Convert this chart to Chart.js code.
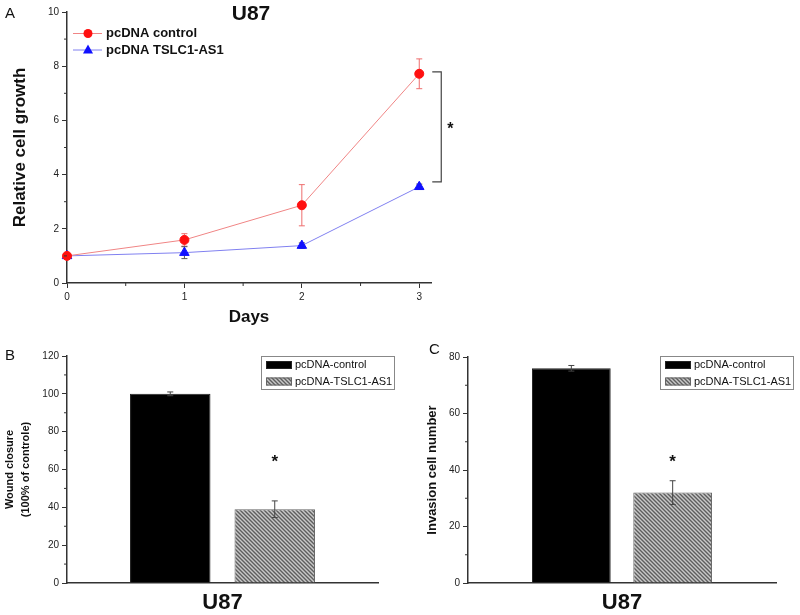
<!DOCTYPE html>
<html>
<head>
<meta charset="utf-8">
<script src="https://cdn.jsdelivr.net/npm/chart.js@4.4.1/dist/chart.umd.min.js"></script>
<style>
  body { margin: 0; background: #fff; }
  #wrap { position: relative; width: 800px; height: 615px; overflow: hidden; font-family: Arial, 'Liberation Sans', sans-serif; }
  #wrap canvas { position: absolute; }
  .tag { position: absolute; font-size: 15px; line-height: 1; color: #111; }
</style>
</head>
<body>
<div id="wrap">
  <canvas id="growth" width="470" height="330" style="left:0;top:0"></canvas>
  <canvas id="wound" width="400" height="285" style="left:0;top:330px"></canvas>
  <canvas id="invasion" width="400" height="285" style="left:400px;top:330px"></canvas>
  <div class="tag" style="left:5px;top:5px">A</div>
  <div class="tag" style="left:5px;top:347px">B</div>
  <div class="tag" style="left:429px;top:341px">C</div>
</div>
<script>
const FONT = "Arial, 'Liberation Sans', sans-serif";

// panel A: relative cell growth
const days = [0, 1, 2, 3];
const controlGrowth = [1.0, 1.59, 2.87, 7.72];
const controlGrowthErr = [0.03, 0.23, 0.76, 0.55];
const tslcGrowth = [1.0, 1.12, 1.38, 3.55];
const tslcGrowthErr = [0.03, 0.22, 0.1, 0.1];

// panels B and C
const groupLabels = ['U87'];
const seriesNames = ['pcDNA-control', 'pcDNA-TSLC1-AS1'];
const woundValues = [100, 39];
const woundErr = [1, 4.4];
const invasionValues = [76, 32];
const invasionErr = [1, 4.2];

const font = (size, weight) => ({ family: FONT, size: size, weight: weight || 'normal' });

function makeHatch() {
  const c = document.createElement('canvas');
  c.width = 4; c.height = 4;
  const g = c.getContext('2d');
  g.fillStyle = '#c8c8c8';
  g.fillRect(0, 0, 4, 4);
  g.strokeStyle = '#5e5e5e';
  g.lineWidth = 1.4;
  g.beginPath();
  g.moveTo(0, 0); g.lineTo(4, 4);
  g.moveTo(-1, 3); g.lineTo(1, 5);
  g.moveTo(3, -1); g.lineTo(5, 1);
  g.stroke();
  return g.createPattern(c, 'repeat');
}
const hatch = makeHatch();

// short ticks between the labelled ones
const minorTicks = {
  id: 'minorTicks',
  afterDraw(chart, args, opts) {
    const ctx = chart.ctx;
    ctx.save();
    ctx.strokeStyle = '#333';
    ctx.lineWidth = 1;
    Object.entries(opts.steps || {}).forEach(([id, step]) => {
      const s = chart.scales[id];
      const major = opts.major[id];
      for (let v = s.min; v <= s.max + 1e-9; v += step) {
        const r = v / major;
        if (Math.abs(r - Math.round(r)) < 1e-6) continue;
        const p = s.getPixelForValue(v);
        ctx.beginPath();
        if (s.isHorizontal()) { ctx.moveTo(p, s.top); ctx.lineTo(p, s.top + 3); }
        else { ctx.moveTo(s.right, p); ctx.lineTo(s.right - 3, p); }
        ctx.stroke();
      }
    });
    ctx.restore();
  }
};

function drawErrors(chart) {
  const ctx = chart.ctx;
  const y = chart.scales.y;
  chart.data.datasets.forEach((ds, i) => {
    const meta = chart.getDatasetMeta(i);
    meta.data.forEach((el, j) => {
      const raw = ds.data[j];
      const mean = typeof raw === 'object' ? raw.y : raw;
      const err = ds.errors[j];
      const top = y.getPixelForValue(mean + err);
      const bot = y.getPixelForValue(mean - err);
      ctx.save();
      ctx.strokeStyle = ds.errorColor;
      ctx.lineWidth = 1;
      ctx.beginPath();
      ctx.moveTo(el.x, top); ctx.lineTo(el.x, bot);
      ctx.moveTo(el.x - 3, top); ctx.lineTo(el.x + 3, top);
      ctx.moveTo(el.x - 3, bot); ctx.lineTo(el.x + 3, bot);
      ctx.stroke();
      ctx.restore();
    });
  });
}

const axisLook = {
  grid: { drawOnChartArea: false, drawTicks: true, tickLength: 5, tickColor: '#333', color: '#333' },
  border: { display: true, color: '#333', width: 1.5 },
  ticks: { color: '#222', font: font(10), padding: 3 }
};

// ---------- A: line chart ----------
new Chart(document.getElementById('growth'), {
  type: 'line',
  data: {
    datasets: [
      {
        label: 'pcDNA control',
        data: days.map((d, i) => ({ x: d, y: controlGrowth[i] })),
        errors: controlGrowthErr,
        errorColor: '#ee6e6e',
        borderColor: '#f08585',
        borderWidth: 1,
        pointStyle: 'circle',
        pointRadius: 4.5,
        pointBackgroundColor: '#ff1010',
        pointBorderColor: '#ff1010',
        tension: 0,
        clip: false
      },
      {
        label: 'pcDNA TSLC1-AS1',
        data: days.map((d, i) => ({ x: d, y: tslcGrowth[i] })),
        errors: tslcGrowthErr,
        errorColor: '#555',
        borderColor: '#8080f0',
        borderWidth: 1,
        pointStyle: 'triangle',
        pointRadius: 5.5,
        pointBackgroundColor: '#1010ff',
        pointBorderColor: '#1010ff',
        tension: 0,
        clip: false
      }
    ]
  },
  options: {
    responsive: false,
    animation: false,
    layout: { padding: { left: 0, top: 12, right: 39, bottom: 0 } },
    plugins: {
      legend: { display: false },
      tooltip: { enabled: false },
      minorTicks: { steps: { x: 0.5, y: 1 }, major: { x: 1, y: 2 } }
    },
    scales: {
      x: {
        type: 'linear', min: 0, max: 3.1,
        ...axisLook,
        ticks: { ...axisLook.ticks, stepSize: 1 },
        afterBuildTicks: s => { s.ticks = days.map(d => ({ value: d })); },
        afterFit: s => { s.height = 47; },
        title: { display: true, text: 'Days', color: '#111', font: font(17, 'bold'), padding: { top: 0, bottom: 2 } }
      },
      y: {
        min: 0, max: 10,
        ...axisLook,
        ticks: { ...axisLook.ticks, stepSize: 2 },
        afterFit: s => { s.width = 67; },
        title: { display: true, text: 'Relative cell growth', color: '#111', font: font(17, 'bold'), padding: { top: 10, bottom: 0 } }
      }
    }
  },
  plugins: [minorTicks, {
    id: 'growthExtras',
    beforeDatasetsDraw(chart) { drawErrors(chart); },
    afterDraw(chart) {
      const { ctx, chartArea, scales: { x, y } } = chart;
      ctx.save();
      ctx.fillStyle = '#111';
      ctx.textAlign = 'center';
      ctx.font = `bold 21px ${FONT}`;
      ctx.fillText('U87', (chartArea.left + chartArea.right) / 2 + 2, 20);

      // legend
      const rows = [33.5, 50];
      chart.data.datasets.forEach((ds, i) => {
        const ry = rows[i];
        ctx.strokeStyle = ds.borderColor;
        ctx.lineWidth = 1;
        ctx.beginPath(); ctx.moveTo(73, ry); ctx.lineTo(102, ry); ctx.stroke();
        ctx.fillStyle = ds.pointBackgroundColor;
        ctx.beginPath();
        if (ds.pointStyle === 'circle') ctx.arc(88, ry, 4.5, 0, Math.PI * 2);
        else { ctx.moveTo(88, ry - 5.5); ctx.lineTo(93, ry + 3.5); ctx.lineTo(83, ry + 3.5); ctx.closePath(); }
        ctx.fill();
        ctx.fillStyle = '#111';
        ctx.textAlign = 'left';
        ctx.textBaseline = 'middle';
        ctx.font = `bold 13px ${FONT}`;
        ctx.fillText(ds.label, 106, ry);
      });

      // significance bracket at day 3
      const last = days.length - 1;
      const bx = x.getPixelForValue(days[last]);
      const top = y.getPixelForValue(controlGrowth[last]) - 2;
      const bot = y.getPixelForValue(tslcGrowth[last]) - 5;
      ctx.strokeStyle = '#444';
      ctx.lineWidth = 1.2;
      ctx.beginPath();
      ctx.moveTo(bx + 13, top); ctx.lineTo(bx + 22, top);
      ctx.lineTo(bx + 22, bot); ctx.lineTo(bx + 13, bot);
      ctx.stroke();
      ctx.fillStyle = '#111';
      ctx.textAlign = 'center';
      ctx.textBaseline = 'middle';
      ctx.font = `bold 16px ${FONT}`;
      ctx.fillText('*', bx + 31, (top + bot) / 2 + 3);
      ctx.restore();
    }
  }]
});

// ---------- B and C: bar charts ----------
function barPanel(id, values, errs, opt) {
  return new Chart(document.getElementById(id), {
    type: 'bar',
    data: {
      labels: groupLabels,
      datasets: [
        { label: seriesNames[0], data: [values[0]], errors: [errs[0]], errorColor: '#444',
          backgroundColor: '#000', borderColor: '#222', borderWidth: 1 },
        { label: seriesNames[1], data: [values[1]], errors: [errs[1]], errorColor: '#444',
          backgroundColor: hatch, borderColor: '#666', borderWidth: 1 }
      ]
    },
    options: {
      responsive: false,
      animation: false,
      categoryPercentage: opt.cp,
      barPercentage: opt.bp,
      layout: { padding: { left: 0, top: opt.top, right: opt.right, bottom: 0 } },
      plugins: {
        legend: { display: false },
        tooltip: { enabled: false },
        minorTicks: { steps: { y: 10 }, major: { y: 20 } }
      },
      scales: {
        x: {
          grid: { display: false, drawTicks: false, tickLength: 0 },
          border: { display: true, color: '#333', width: 1.5 },
          ticks: { color: '#111', font: font(22, 'bold'), padding: 7 },
          afterFit: s => { s.height = 285 - opt.bottom; }
        },
        y: {
          min: 0, max: opt.max,
          ...axisLook,
          ticks: { ...axisLook.ticks, stepSize: 20 },
          afterFit: s => { s.width = opt.yWidth; },
          title: { display: true, text: opt.yTitle, color: '#111', font: { ...font(opt.titleSize, 'bold'), lineHeight: opt.titleLh }, padding: { top: opt.titlePad, bottom: 0 } }
        }
      }
    },
    plugins: [minorTicks, {
      id: 'barExtras',
      afterDatasetsDraw(chart) { drawErrors(chart); },
      afterDraw(chart) {
        const { ctx, scales: { y } } = chart;
        const bar = chart.getDatasetMeta(1).data[0];
        ctx.save();
        ctx.fillStyle = '#111';
        ctx.textAlign = 'center';
        ctx.textBaseline = 'middle';
        ctx.font = `bold 17px ${FONT}`;
        ctx.fillText('*', bar.x, y.getPixelForValue(opt.starAt) + 4);

        // legend box
        const lx = opt.legendX, ly = 26;
        ctx.strokeStyle = '#888';
        ctx.lineWidth = 1;
        ctx.strokeRect(lx + 0.5, ly + 0.5, 133, 33);
        chart.data.datasets.forEach((ds, i) => {
          const sy = ly + 5 + i * 16.5;
          ctx.fillStyle = ds.backgroundColor;
          ctx.fillRect(lx + 5, sy, 26, 8);
          ctx.strokeStyle = ds.borderColor;
          ctx.strokeRect(lx + 5.5, sy + 0.5, 25, 7);
          ctx.fillStyle = '#111';
          ctx.textAlign = 'left';
          ctx.font = `11px ${FONT}`;
          ctx.fillText(ds.label, lx + 34, sy + 4);
        });
        ctx.restore();
      }
    }]
  });
}

barPanel('wound', woundValues, woundErr, {
  cp: 0.672, bp: 0.77, top: 26, right: 22, bottom: 253, max: 120, yWidth: 67,
  yTitle: ['Wound closure', '(100% of controle)'], titleSize: 11, titleLh: 1.4, titlePad: 2.6,
  starAt: 66, legendX: 261
});

barPanel('invasion', invasionValues, invasionErr, {
  cp: 0.658, bp: 0.777, top: 27, right: 24, bottom: 253, max: 80, yWidth: 68,
  yTitle: 'Invasion cell number', titleSize: 13, titleLh: 1.2, titlePad: 24.5,
  starAt: 44, legendX: 260
});
</script>
</body>
</html>
